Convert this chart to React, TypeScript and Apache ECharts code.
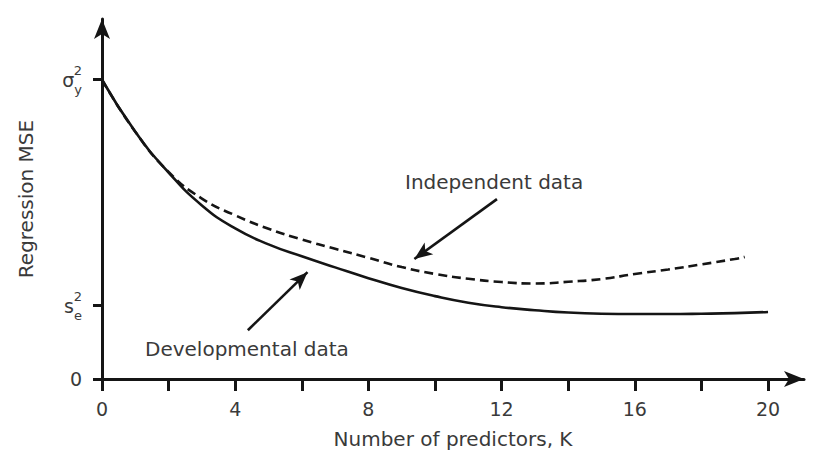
import React, { useEffect, useRef } from "react";
import * as echarts from "echarts";

// Number of predictors K
const kDev = [0, 1, 2, 3, 4, 5, 6, 7, 8, 9, 10, 11, 12, 13, 14, 15, 16, 17, 18, 19, 20];
const mseDev = [1.0, 0.826, 0.69, 0.58, 0.503, 0.45, 0.41, 0.373, 0.337, 0.304, 0.277, 0.255, 0.24, 0.23, 0.222, 0.218, 0.217, 0.217, 0.218, 0.22, 0.224];
const kInd = [0, 1, 2, 3, 4, 5, 6, 7, 8, 9, 10, 11, 12, 13, 14, 15, 16, 17, 18, 19, 19.3];
const mseInd = [1.0, 0.826, 0.692, 0.603, 0.547, 0.502, 0.466, 0.435, 0.405, 0.374, 0.351, 0.335, 0.324, 0.319, 0.325, 0.334, 0.351, 0.366, 0.383, 0.401, 0.408];

const SIGMA_Y2 = 1.0;
const S_E2 = 0.245;
const xTickValues = [0, 2, 4, 6, 8, 10, 12, 14, 16, 18, 20];
const xLabelValues = [0, 4, 8, 12, 16, 20];
const yTickValues = [0, S_E2, SIGMA_Y2];

// annotation arrows: [start, end] in data coordinates
const indArrow = [[11.86, 0.601], [9.38, 0.401]];
const devArrow = [[4.38, 0.163], [6.17, 0.357]];

const INK = "#151515";
const TXT = "#3a3a3a";
const FONT = "DejaVu Sans";

export default function App() {
  const ref = useRef<HTMLDivElement>(null);
  useEffect(() => {
    if (!ref.current) return;
    const chart = echarts.init(ref.current, undefined, { renderer: "svg" });
    const zip = (xs: number[], ys: number[]) => xs.map((x, i) => [x, ys[i]]);
    chart.setOption({
      animation: false,
      backgroundColor: "#ffffff",
      textStyle: { fontFamily: FONT },
      grid: { left: 102, right: 17, top: 19, bottom: 73 },
      xAxis: {
        type: "value",
        min: 0,
        max: 21.08,
        name: "Number of predictors, K",
        nameLocation: "middle",
        nameGap: 50,
        nameTextStyle: { fontSize: 20, color: TXT, fontFamily: FONT },
        splitLine: { show: false },
        axisLine: {
          lineStyle: { color: INK, width: 3 },
          symbol: ["none", "arrow"],
          symbolSize: [12, 20],
        },
        axisTick: {
          customValues: xTickValues,
          length: 12,
          lineStyle: { color: INK, width: 3 },
        },
        axisLabel: {
          customValues: xLabelValues,
          margin: 20,
          fontSize: 19,
          color: TXT,
          fontFamily: FONT,
        },
      },
      yAxis: {
        type: "value",
        min: 0,
        max: 1.203,
        name: "Regression MSE",
        nameLocation: "middle",
        nameGap: 66,
        nameTextStyle: { fontSize: 20, color: TXT, fontFamily: FONT },
        splitLine: { show: false },
        axisLine: {
          lineStyle: { color: INK, width: 3 },
          symbol: ["none", "arrow"],
          symbolSize: [12, 20],
        },
        axisTick: {
          customValues: yTickValues,
          length: 9,
          lineStyle: { color: INK, width: 3 },
        },
        axisLabel: {
          customValues: yTickValues,
          margin: 20,
          fontSize: 19,
          color: TXT,
          fontFamily: FONT,
          formatter: (v: number) => {
            if (Math.abs(v) < 1e-9) return "0";
            if (Math.abs(v - SIGMA_Y2) < 1e-6) return "{sup|2}\n{b|σ}{sub|y}";
            return "{sup|2}\n{b|s}{sub|e}";
          },
          rich: {
            sup: { fontSize: 13, lineHeight: 0, align: "right", color: TXT, fontFamily: FONT },
            b: { fontSize: 19, lineHeight: 18, verticalAlign: "top", color: TXT, fontFamily: FONT },
            sub: { fontSize: 13, lineHeight: 12, padding: [12, 0, 0, 0], verticalAlign: "top", color: TXT, fontFamily: FONT },
          },
        },
      },
      graphic: [
        {
          type: "text",
          left: 405,
          top: 172,
          style: { text: "Independent data", fontSize: 20, fill: TXT, fontFamily: FONT },
        },
        {
          type: "text",
          left: 145,
          top: 339,
          style: { text: "Developmental data", fontSize: 20, fill: TXT, fontFamily: FONT },
        },
      ],
      series: [
        {
          name: "Developmental data",
          type: "line",
          data: zip(kDev, mseDev),
          smooth: 0.5,
          showSymbol: false,
          lineStyle: { color: INK, width: 2.6 },
          markLine: {
            silent: true,
            symbol: ["none", "arrow"],
            symbolSize: [11, 18],
            label: { show: false },
            lineStyle: { color: INK, width: 2.6, type: "solid" },
            data: [[{ coord: devArrow[0] }, { coord: devArrow[1] }]],
          },
        },
        {
          name: "Independent data",
          type: "line",
          data: zip(kInd, mseInd),
          smooth: 0.5,
          showSymbol: false,
          lineStyle: { color: INK, width: 2.6, type: [9, 5] },
          markLine: {
            silent: true,
            symbol: ["none", "arrow"],
            symbolSize: [11, 18],
            label: { show: false },
            lineStyle: { color: INK, width: 2.6, type: "solid" },
            data: [[{ coord: indArrow[0] }, { coord: indArrow[1] }]],
          },
        },
      ],
    });
    return () => chart.dispose();
  }, []);
  return (
    <div
      ref={ref}
      style={{ position: "absolute", left: 0, top: 0, width: 821, height: 454 }}
    />
  );
}
